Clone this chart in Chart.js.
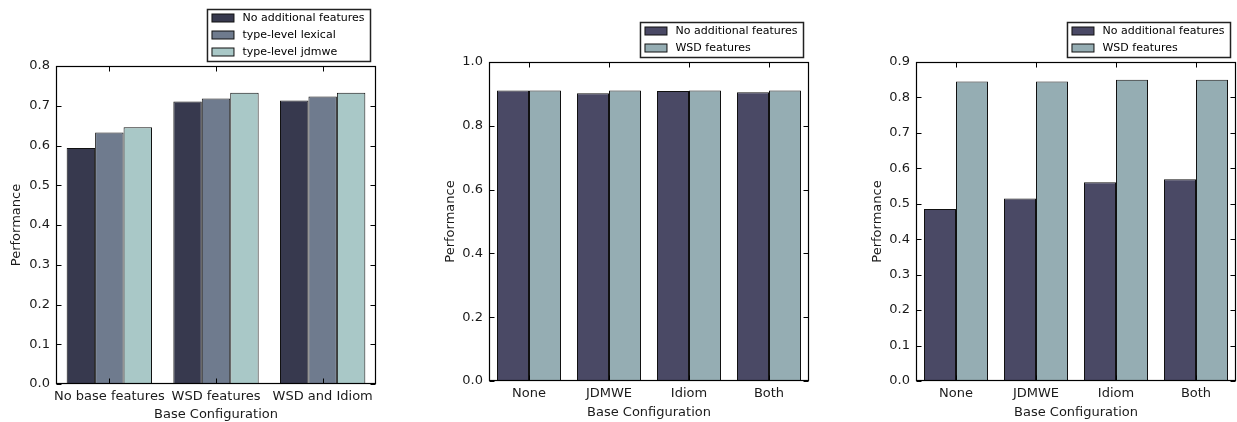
<!DOCTYPE html>
<html><head><meta charset="utf-8">
<script src="https://cdn.jsdelivr.net/npm/chart.js@4.4.1/dist/chart.umd.min.js"></script>
<style>
html,body{margin:0;padding:0;background:#fff;overflow:hidden}
#wrap{position:relative;width:1237px;height:422px;background:#fff}
canvas{position:absolute;top:0}
</style></head><body>
<div id="wrap">
<canvas id="c1" width="410" height="422" style="left:0px"></canvas>
<canvas id="c2" width="420" height="422" style="left:410px"></canvas>
<canvas id="c3" width="407" height="422" style="left:830px"></canvas>
</div>
<script>
// ---- Data ----
const categories1 = ['No base features', 'WSD features', 'WSD and Idiom'];
const noAdditional1 = [0.594, 0.711, 0.713];
const typeLexical1 = [0.633, 0.718, 0.723];
const typeJdmwe1 = [0.646, 0.733, 0.733];

const categories2 = ['None', 'JDMWE', 'Idiom', 'Both'];
const noAdditional2 = [0.911, 0.902, 0.909, 0.905];
const wsdFeatures2 = [0.911, 0.911, 0.911, 0.911];

const categories3 = ['None', 'JDMWE', 'Idiom', 'Both'];
const noAdditional3 = [0.485, 0.515, 0.561, 0.569];
const wsdFeatures3 = [0.845, 0.845, 0.850, 0.850];

const seriesNames1 = ['No additional features', 'type-level lexical', 'type-level jdmwe'];
const seriesNames2 = ['No additional features', 'WSD features'];

const yMax1 = 0.8, yStep1 = 0.1;
const yMax2 = 1.0, yStep2 = 0.2;
const yMax3 = 0.9, yStep3 = 0.1;

const FONT = '"DejaVu Sans", sans-serif';
const TXT = '#1a1a1a';

// Frame + inward ticks (matplotlib classic style)
const framePlugin = {
  id: 'frame',
  afterDatasetsDraw(chart) {
    const {ctx, chartArea: a, scales: {x, y}} = chart;
    ctx.save();
    ctx.strokeStyle = '#000';
    ctx.lineWidth = 1;
    const L = Math.round(a.left) + 0.5, R = Math.round(a.right) - 0.5;
    const T = Math.round(a.top) + 0.5, B = Math.round(a.bottom) - 0.5;
    ctx.beginPath();
    y.ticks.forEach(t => {
      const py = Math.round(y.getPixelForValue(t.value)) + 0.5;
      ctx.moveTo(L, py); ctx.lineTo(L + 5, py);
      ctx.moveTo(R, py); ctx.lineTo(R - 5, py);
    });
    x.ticks.forEach((t, i) => {
      const px = Math.round(x.getPixelForTick(i)) + 0.5;
      ctx.moveTo(px, B); ctx.lineTo(px, B - 5);
      ctx.moveTo(px, T); ctx.lineTo(px, T + 5);
    });
    ctx.stroke();
    ctx.lineWidth = 1.2;
    ctx.strokeRect(L, T, R - L, B - T);
    ctx.restore();
  }
};

// Legend box drawn above the plot, anchored right
const legendPlugin = {
  id: 'boxLegend',
  afterDraw(chart) {
    const {ctx, chartArea: a} = chart;
    const ds = chart.data.datasets;
    ctx.save();
    ctx.font = '11px ' + FONT;
    let tw = 0;
    ds.forEach(d => { tw = Math.max(tw, ctx.measureText(d.label).width); });
    const w = 4 + 22 + 9 + tw + 6;
    const rowH = 17;
    const h = rowH * (ds.length - 1) + 18;
    const right = a.right - 5.5;
    const bottom = a.top - 4.5;
    const left = right - w, top = bottom - h;
    ctx.fillStyle = '#fff';
    ctx.fillRect(left, top, w, h);
    ctx.strokeStyle = '#222';
    ctx.lineWidth = 1.5;
    ctx.strokeRect(left, top, w, h);
    ds.forEach((d, i) => {
      const cy = top + 8.5 + i * rowH;
      ctx.fillStyle = d.backgroundColor;
      ctx.fillRect(left + 4.5, cy - 4, 22, 8);
      ctx.strokeStyle = '#111';
      ctx.lineWidth = 1;
      ctx.strokeRect(left + 4.5, cy - 4, 22, 8);
      ctx.fillStyle = '#000';
      ctx.textBaseline = 'middle';
      ctx.textAlign = 'left';
      ctx.fillText(d.label, left + 35, cy + 0.5);
    });
    ctx.restore();
  }
};

function makeChart(id, cfg) {
  const canvas = document.getElementById(id);
  const H = canvas.height;
  return new Chart(canvas, {
    type: 'bar',
    data: {
      labels: cfg.labels,
      datasets: cfg.series.map((s, i) => ({
        label: s.name,
        data: s.values,
        backgroundColor: s.color,
        borderColor: '#111',
        borderWidth: 1,
        borderSkipped: false
      }))
    },
    options: {
      responsive: false,
      animation: false,
      devicePixelRatio: 1,
      layout: {padding: {left: 0, right: cfg.padRight, top: cfg.top, bottom: 0}},
      plugins: {legend: {display: false}, tooltip: {enabled: false}},
      datasets: {bar: {barPercentage: 1.0, categoryPercentage: 0.8}},
      scales: {
        x: {
          grid: {display: false, drawTicks: false},
          border: {display: false},
          ticks: {color: TXT, font: {family: FONT, size: 13}, padding: 5, maxRotation: 0, autoSkip: false},
          title: {display: true, text: 'Base Configuration', color: TXT,
                  font: {family: FONT, size: 13}, padding: {top: 0, bottom: cfg.xTitlePad}},
          afterFit(scale) { scale.height = H - cfg.bottom; }
        },
        y: {
          min: 0, max: cfg.yMax,
          grid: {display: false, drawTicks: false},
          border: {display: false},
          ticks: {stepSize: cfg.yStep, color: TXT, font: {family: FONT, size: 13}, padding: 6,
                  callback: v => Number(v).toFixed(1)},
          title: {display: true, text: 'Performance', color: TXT,
                  font: {family: FONT, size: 13}, padding: {top: cfg.yTitlePad, bottom: 0}},
          afterFit(scale) { scale.width = cfg.plotLeft; }
        }
      }
    },
    plugins: [framePlugin, legendPlugin]
  });
}

makeChart('c1', {
  labels: categories1,
  series: [
    {name: seriesNames1[0], values: noAdditional1, color: '#37394e'},
    {name: seriesNames1[1], values: typeLexical1, color: '#6f7b8e'},
    {name: seriesNames1[2], values: typeJdmwe1, color: '#a9c8c7'}
  ],
  yMax: yMax1, yStep: yStep1,
  plotLeft: 56, padRight: 34, top: 66, bottom: 384,
  yTitlePad: 9, xTitlePad: 0
});

makeChart('c2', {
  labels: categories2,
  series: [
    {name: seriesNames2[0], values: noAdditional2, color: '#4a4965'},
    {name: seriesNames2[1], values: wsdFeatures2, color: '#95adb3'}
  ],
  yMax: yMax2, yStep: yStep2,
  plotLeft: 79, padRight: 21, top: 62, bottom: 381,
  yTitlePad: 33, xTitlePad: 2
});

makeChart('c3', {
  labels: categories3,
  series: [
    {name: seriesNames2[0], values: noAdditional3, color: '#4a4965'},
    {name: seriesNames2[1], values: wsdFeatures3, color: '#95adb3'}
  ],
  yMax: yMax3, yStep: yStep3,
  plotLeft: 86, padRight: 1, top: 62, bottom: 381,
  yTitlePad: 40, xTitlePad: 2
});
</script>
</body></html>
